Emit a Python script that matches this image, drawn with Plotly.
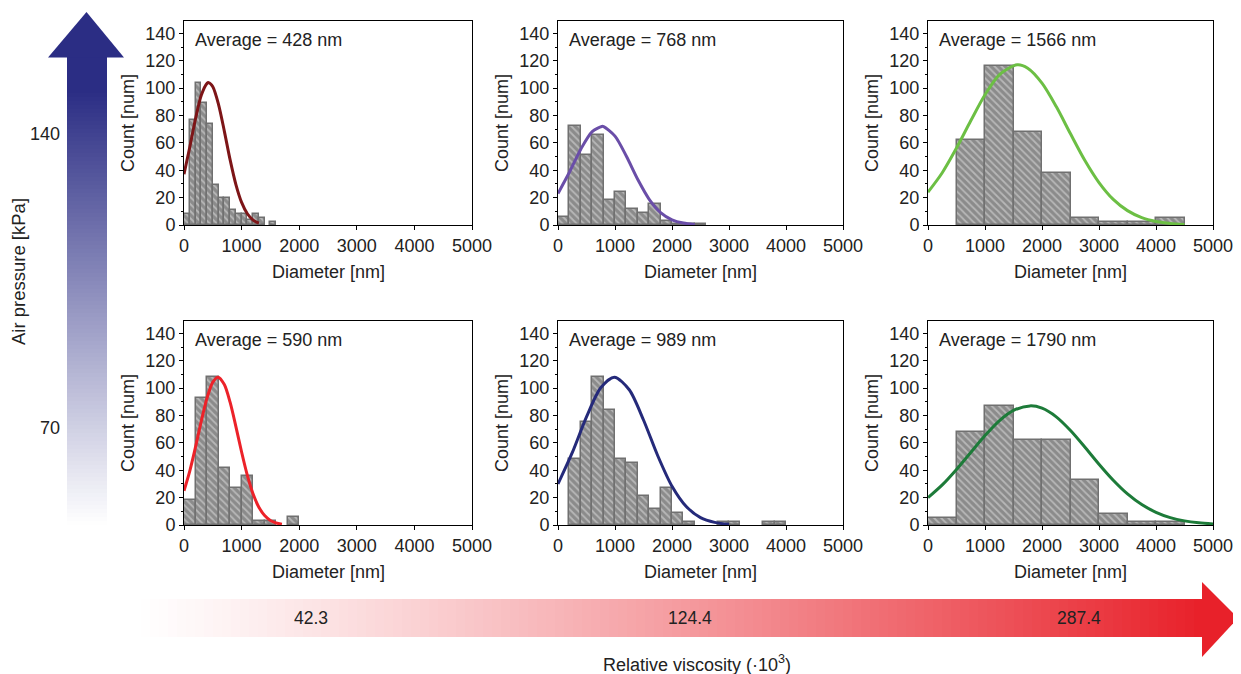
import plotly.graph_objects as go

# ---------------- data ----------------
averages = [428, 768, 1566, 590, 989, 1790]          # nm, panel order: top row L->R, bottom row L->R
bin_widths = [100, 200, 500, 200, 200, 500]            # nm

counts_428 = [8, 77, 104, 89, 74, 29, 20, 20, 11, 8, 8, 4, 8, 5, 0, 2]
counts_768 = [6, 72, 51, 66, 18, 24, 12, 9, 15, 3, 1, 1, 1]
counts_1566 = [0, 62, 116, 68, 38, 5, 2, 2, 5]
counts_590 = [18, 93, 108, 42, 27, 36, 3, 3, 0, 6]
counts_989 = [0, 48, 75, 108, 84, 48, 45, 21, 12, 27, 9, 2, 0, 0, 2, 2, 0, 0, 2, 2]
counts_1790 = [5, 68, 87, 62, 62, 33, 8, 2, 2]

fit_x_428 = [0, 100, 200, 300, 400, 428, 500, 600, 700, 800, 900, 1000, 1100, 1200, 1300]
fit_y_428 = [37.1, 56.8, 77.6, 94.8, 103.5, 104, 101.0, 88.0, 68.6, 47.7, 29.7, 16.5, 8.2, 3.6, 1.4]

fit_x_768 = [0, 200, 400, 600, 768, 800, 1000, 1200, 1400, 1600, 1800, 2000, 2200, 2400]
fit_y_768 = [23.0, 38.5, 55.4, 68.2, 72, 71.9, 64.9, 50.2, 33.2, 18.8, 9.1, 3.8, 1.4, 0.4]

fit_x_1566 = [0, 250, 500, 750, 1000, 1250, 1566, 1750, 2000, 2250, 2500, 2750, 3000, 3250, 3500, 3750, 4000, 4250, 4500]
fit_y_1566 = [24.0, 38.2, 56.2, 76.1, 95.1, 109.7, 117, 114.5, 103.6, 86.5, 66.6, 47.3, 31.0, 18.7, 10.5, 5.4, 2.6, 1.1, 0.45]

fit_x_590 = [0, 100, 200, 300, 400, 500, 590, 700, 800, 900, 1000, 1100, 1200, 1300, 1400, 1500, 1600, 1700]
fit_y_590 = [25.0, 39.4, 57.0, 75.9, 92.8, 104.4, 108, 102.6, 89.7, 72.1, 53.3, 36.2, 22.6, 13.0, 6.9, 3.3, 1.5, 0.6]

fit_x_989 = [0, 250, 500, 750, 989, 1250, 1500, 1750, 2000, 2250, 2500, 2750, 3000]
fit_y_989 = [30.0, 52.8, 79.0, 100.2, 108, 98.8, 76.7, 50.6, 28.3, 13.5, 5.4, 1.9, 0.5]

fit_x_1790 = [0, 250, 500, 750, 1000, 1250, 1500, 1790, 2000, 2250, 2500, 2750, 3000, 3250, 3500, 3750, 4000, 4250, 4500, 4750, 5000]
fit_y_1790 = [20.0, 29.3, 40.6, 53.0, 65.3, 76.1, 83.7, 87, 85.3, 79.0, 69.0, 57.0, 44.4, 32.7, 22.7, 14.9, 9.3, 5.4, 3.0, 1.6, 0.8]

counts_all = [counts_428, counts_768, counts_1566, counts_590, counts_989, counts_1790]
fits_x = [fit_x_428, fit_x_768, fit_x_1566, fit_x_590, fit_x_989, fit_x_1790]
fits_y = [fit_y_428, fit_y_768, fit_y_1566, fit_y_590, fit_y_989, fit_y_1790]
fit_colors = ["#7d1517", "#6a4ea8", "#6cbf44", "#ec2229", "#252a7a", "#1d7b39"]

x_ticks = [0, 1000, 2000, 3000, 4000, 5000]
y_ticks = [0, 20, 40, 60, 80, 100, 120, 140]

pressure_labels = ["140", "70"]
viscosity_labels = ["42.3", "124.4", "287.4"]

# ---------------- layout helpers ----------------
PAGE_W, PAGE_H = 1241, 674
OFF = 8                      # default page body margin
W, H = PAGE_W - OFF, PAGE_H - OFF
FONT = "Arial, Liberation Sans, Helvetica, sans-serif"


def px(x):
    return (x - OFF) / W


def py(y):
    return 1 - (y - OFF) / H


col_px = [(184, 472), (558, 843), (928, 1213)]
row_px = [(21, 225), (321, 525)]

fig = go.Figure()
annotations = []
shapes = []

for i in range(6):
    k = i + 1
    r, c = divmod(i, 3)
    xa = "x" if k == 1 else f"x{k}"
    ya = "y" if k == 1 else f"y{k}"
    bw = bin_widths[i]
    counts = counts_all[i]
    centers = [bw * (j + 0.5) for j in range(len(counts))]
    fig.add_trace(go.Bar(
        x=centers, y=counts, width=bw, xaxis=xa, yaxis=ya, showlegend=False,
        marker=dict(color="#8b8b8b",
                    line=dict(color="#707070", width=[1.5 if v > 0 else 0 for v in counts]),
                    pattern=dict(shape="\\", fgcolor="#e4e4e4", bgcolor="#8b8b8b",
                                 size=5, solidity=0.35)),
        hoverinfo="skip",
    ))
    fig.add_trace(go.Scatter(
        x=fits_x[i], y=fits_y[i], xaxis=xa, yaxis=ya, mode="lines", showlegend=False,
        line=dict(color=fit_colors[i], width=3, shape="spline", smoothing=0.8),
        hoverinfo="skip", cliponaxis=True,
    ))
    x0, x1 = col_px[c]
    y0, y1 = row_px[r]
    axis_common = dict(showline=True, mirror=True, linecolor="black", linewidth=1,
                       showgrid=False, zeroline=False, ticks="outside", ticklen=4,
                       tickcolor="black", tickfont=dict(family=FONT, size=18, color="#222"),
                       automargin=False, fixedrange=True)
    fig.layout["xaxis" if k == 1 else f"xaxis{k}"] = dict(
        domain=[px(x0), px(x1)], anchor=ya, range=[0, 5000], tickvals=x_ticks, **axis_common)
    fig.layout["yaxis" if k == 1 else f"yaxis{k}"] = dict(
        domain=[py(y1), py(y0)], anchor=xa, range=[0, 149], tickvals=y_ticks,
        minor=dict(ticks="outside", ticklen=2, dtick=10, tickcolor="black"), **axis_common)
    # average label
    annotations.append(dict(
        text=f"Average = {averages[i]} nm", xref=f"{xa} domain", yref=f"{ya} domain",
        x=0.03, y=0.905, xanchor="left", yanchor="middle", showarrow=False,
        font=dict(family=FONT, size=18, color="#222")))
    # axis titles
    annotations.append(dict(
        text="Count [num]", xref="paper", yref="paper", x=px(x0 - 56), y=py((y0 + y1) / 2),
        xanchor="center", yanchor="middle", textangle=-90, showarrow=False,
        font=dict(family=FONT, size=18, color="#222")))
    annotations.append(dict(
        text="Diameter [nm]", xref="paper", yref="paper", x=px((x0 + x1) / 2), y=py(y1 + 47),
        xanchor="center", yanchor="middle", showarrow=False,
        font=dict(family=FONT, size=18, color="#222")))

# ---------------- gradient arrows (decoration) ----------------
# vertical (air pressure) arrow, navy fading to white downward
top_col = (43, 45, 132)
v_top, v_bot = 57, 525
n_v = 117
for j in range(n_v):
    ya0 = v_top + (v_bot - v_top) * j / n_v
    ya1 = v_top + (v_bot - v_top) * (j + 1) / n_v
    mid = (ya0 + ya1) / 2
    s = min(1.0, max(0.0, (v_bot - mid) / (v_bot - 90)))
    col = tuple(int(round(255 - s * (255 - cc))) for cc in top_col)
    shapes.append(dict(type="rect", xref="paper", yref="paper", layer="below",
                       x0=px(67), x1=px(107), y0=py(min(v_bot, ya1 + 2)), y1=py(ya0),
                       fillcolor=f"rgb{col}", line=dict(width=0)))
shapes.append(dict(type="path", xref="paper", yref="paper", layer="below",
                   path=f"M {px(48)},{py(57.5)} L {px(124)},{py(57.5)} L {px(86.5)},{py(12)} Z",
                   fillcolor=f"rgb{top_col}", line=dict(width=0)))

# horizontal (viscosity) arrow, white fading to red rightward
red_col = (232, 33, 42)
h_left, h_right = 105, 1203
n_h = 122
for j in range(n_h):
    xa0 = h_left + (h_right - h_left) * j / n_h
    xa1 = h_left + (h_right - h_left) * (j + 1) / n_h
    mid = (xa0 + xa1) / 2
    t = min(1.0, max(0.0, (mid - 130) / (1200 - 130))) ** 1.2
    col = tuple(int(round(255 - t * (255 - cc))) for cc in red_col)
    shapes.append(dict(type="rect", xref="paper", yref="paper", layer="below",
                       x0=px(xa0), x1=px(min(h_right, xa1 + 2)), y0=py(637), y1=py(599),
                       fillcolor=f"rgb{col}", line=dict(width=0)))
shapes.append(dict(type="path", xref="paper", yref="paper", layer="below",
                   path=f"M {px(1202)},{py(582)} L {px(1238)},{py(618)} L {px(1202)},{py(657)} Z",
                   fillcolor=f"rgb{red_col}", line=dict(width=0)))

# arrow labels
for lab, yy in zip(pressure_labels, [134, 428]):
    annotations.append(dict(text=lab, xref="paper", yref="paper", x=px(62), y=py(yy),
                            xanchor="right", yanchor="middle", showarrow=False,
                            font=dict(family=FONT, size=18, color="#222")))
annotations.append(dict(text="Air pressure [kPa]", xref="paper", yref="paper", x=px(19), y=py(272),
                        xanchor="center", yanchor="middle", textangle=-90, showarrow=False,
                        font=dict(family=FONT, size=18.5, color="#222")))
for lab, xx in zip(viscosity_labels, [311, 690, 1079]):
    annotations.append(dict(text=lab, xref="paper", yref="paper", x=px(xx), y=py(618),
                            xanchor="center", yanchor="middle", showarrow=False,
                            font=dict(family=FONT, size=17.5, color="#222")))
annotations.append(dict(text="Relative viscosity (·10<sup>3</sup>)", xref="paper", yref="paper",
                        x=px(697), y=py(663), xanchor="center", yanchor="middle", showarrow=False,
                        font=dict(family=FONT, size=18, color="#222")))

fig.update_layout(
    width=W, height=H, autosize=False,
    margin=dict(l=0, r=0, t=0, b=0),
    paper_bgcolor="white", plot_bgcolor="white",
    annotations=annotations, shapes=shapes,
    bargap=0, showlegend=False,
)

fig.write_html("out.html")
